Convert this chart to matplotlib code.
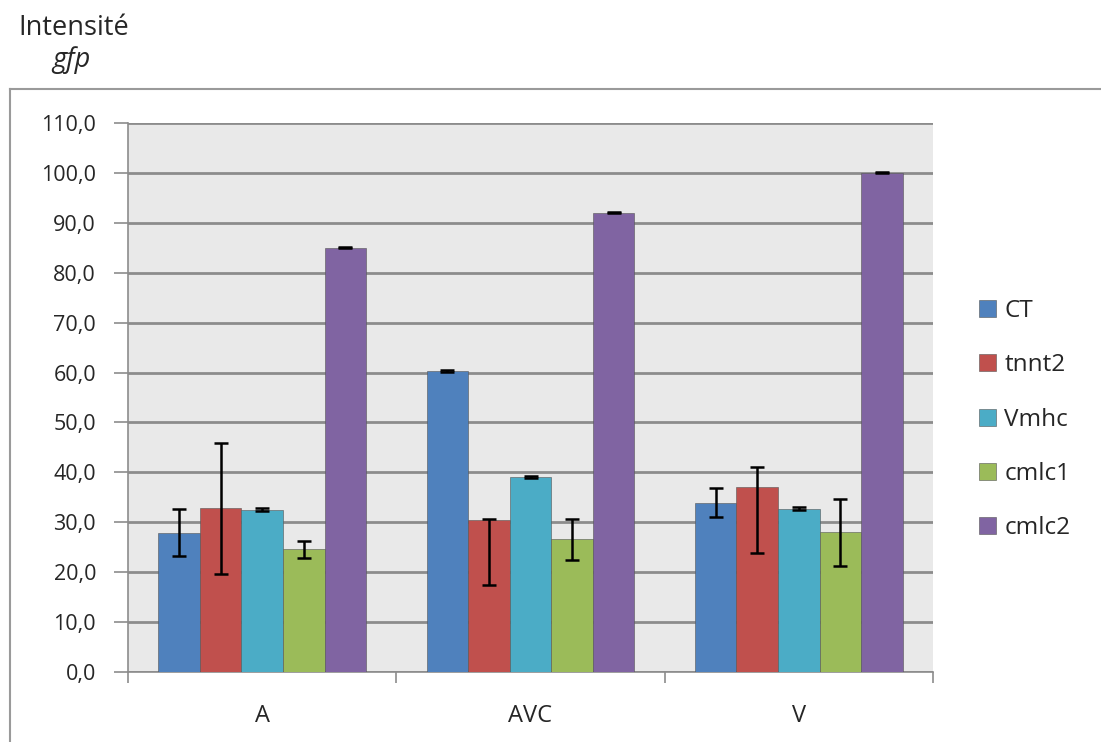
import numpy as np
import matplotlib.pyplot as plt
from matplotlib.lines import Line2D
from matplotlib.ticker import FuncFormatter

plt.rcParams['font.family'] = ['Open Sans', 'DejaVu Sans']

# regions et séries
regions = ["A", "AVC", "V"]
series = ["CT", "tnnt2", "Vmhc", "cmlc1", "cmlc2"]
colors = ["#4F81BD", "#C0504D", "#4BACC6", "#9BBB59", "#8064A2"]

# intensité gfp (A, AVC, V)
ct = [27.9, 60.4, 33.9]
tnnt2 = [32.8, 30.5, 37.1]
vmhc = [32.5, 39.0, 32.7]
cmlc1 = [24.6, 26.6, 28.1]
cmlc2 = [85.0, 92.0, 100.0]

# barres d'erreur (bas, haut)
ct_err = [[4.7, 0.2, 2.9], [4.7, 0.2, 2.9]]
tnnt2_err = [[13.2, 13.1, 13.2], [13.0, 0.2, 4.0]]
vmhc_err = [[0.3, 0.2, 0.3], [0.3, 0.2, 0.3]]
cmlc1_err = [[1.8, 4.1, 6.8], [1.6, 4.1, 6.6]]
cmlc2_err = [[0.1, 0.1, 0.1], [0.1, 0.1, 0.1]]

valeurs = [ct, tnnt2, vmhc, cmlc1, cmlc2]
erreurs = [ct_err, tnnt2_err, vmhc_err, cmlc1_err, cmlc2_err]

texte = "#262626"
W, H = 1101, 742
fig = plt.figure(figsize=(W / 100, H / 100), dpi=100)
ax = fig.add_axes([128 / W, (H - 672) / H, (933 - 128) / W, (672 - 123) / H])
ax.set_facecolor("#E9E9E9")

x = np.arange(len(regions))
w = 0.155
for i in range(len(series)):
    ax.bar(x + (i - 2) * w, valeurs[i], w, color=colors[i], edgecolor="#555555",
           linewidth=0.4, label=series[i], zorder=3)
    ax.errorbar(x + (i - 2) * w, valeurs[i], yerr=erreurs[i], fmt="none",
                ecolor="black", elinewidth=1.8, capsize=5, capthick=1.8, zorder=4)

ax.set_ylim(0, 110)
ax.set_xlim(-0.5, 2.5)
ax.set_yticks(np.arange(0, 111, 10))
ax.yaxis.set_major_formatter(FuncFormatter(lambda v, p: f"{v:.1f}".replace(".", ",")))
ax.grid(axis="y", color="#8C8C8C", linewidth=2, zorder=0)
ax.set_axisbelow(True)

ax.set_xticks(x)
ax.set_xticklabels(regions)
ax.set_xticks([-0.5, 0.5, 1.5, 2.5], minor=True)
ax.tick_params(axis="x", which="major", length=0, pad=23, labelsize=17, labelcolor=texte)
ax.tick_params(axis="x", which="minor", length=8, color="#8C8C8C", width=1.2)
ax.tick_params(axis="y", length=10, color="#8C8C8C", width=1.2, labelsize=15.5,
               pad=13, labelcolor=texte)

for s in ["top", "right"]:
    ax.spines[s].set_visible(False)
for s in ["left", "bottom"]:
    ax.spines[s].set_color("#8C8C8C")
    ax.spines[s].set_linewidth(1.2)

leg = ax.legend(loc="upper left", bbox_to_anchor=(957 / W, 1 - 277 / H),
                bbox_transform=fig.transFigure, frameon=False, fontsize=17.5,
                handlelength=0.7, handleheight=0.7, handletextpad=0.35, labelspacing=1.25)
for t in leg.get_texts():
    t.set_color(texte)

# cadre du graphique
fig.add_artist(Line2D([10 / W, 1], [1 - 89 / H, 1 - 89 / H], color="#9A9A9A", lw=1.5))
fig.add_artist(Line2D([10 / W, 10 / W], [0, 1 - 89 / H], color="#9A9A9A", lw=1.5))

fig.text(18 / W, 1 - 35 / H, "Intensité", fontsize=19.5, ha="left", va="baseline", color=texte)
fig.text(52 / W, 1 - 67 / H, "gfp", fontsize=19.5, style="italic", ha="left", va="baseline", color=texte)

fig.savefig("out.png", dpi=100)
